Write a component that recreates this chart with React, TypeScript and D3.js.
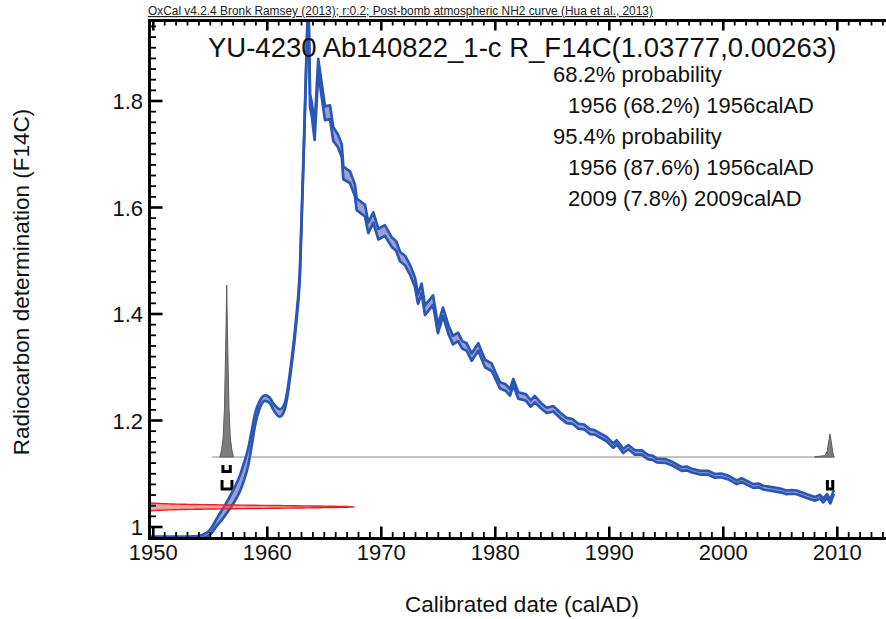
import React from 'react';
import * as d3 from 'd3';

// ---- Calibration curve (Post-bomb NH2) ----
const calYear = [1949.4, 1951, 1952.5, 1953.8, 1954.3, 1954.8, 1955.12, 1955.6, 1956.0, 1956.58, 1957.1, 1957.6, 1958.0, 1958.33, 1958.62, 1958.92, 1959.3, 1959.8, 1960.2, 1960.6, 1961.1, 1961.55, 1962.05, 1962.5, 1962.87, 1963.2, 1963.48, 1963.6, 1963.75, 1963.9, 1964.15, 1964.47, 1965.06, 1965.5, 1965.79, 1966.2, 1966.53, 1966.67, 1967.25, 1967.69, 1967.84, 1968.57, 1968.86, 1969.3, 1969.74, 1970.32, 1970.91, 1971.3, 1971.64, 1972.1, 1972.52, 1972.96, 1973.22, 1973.54, 1973.83, 1974.54, 1974.97, 1975.41, 1975.9, 1976.29, 1976.73, 1977.1, 1977.49, 1977.93, 1978.51, 1979.1, 1979.68, 1980.0, 1980.41, 1980.9, 1981.29, 1981.58, 1982.02, 1982.7, 1983.1, 1983.48, 1984.0, 1984.51, 1985.1, 1985.68, 1986.26, 1986.8, 1987.3, 1987.8, 1988.3, 1988.7, 1989.18, 1989.77, 1990.35, 1990.65, 1991.23, 1991.67, 1992.25, 1992.84, 1993.42, 1993.8, 1994.16, 1994.9, 1995.61, 1996.35, 1996.8, 1997.23, 1997.96, 1998.66, 1999.27, 1999.8, 2000.44, 2001.18, 2001.61, 2002.63, 2003.1, 2003.51, 2004.39, 2005.12, 2005.56, 2006.0, 2006.44, 2007.32, 2008.04, 2008.48, 2008.77, 2009.1, 2009.39, 2009.7];
const calF14C = [0.979, 0.979, 0.979, 0.980, 0.982, 0.987, 0.994, 1.010, 1.022, 1.041, 1.060, 1.082, 1.107, 1.132, 1.165, 1.201, 1.228, 1.242, 1.238, 1.224, 1.214, 1.228, 1.295, 1.38, 1.483, 1.708, 1.915, 2.0, 1.80, 1.785, 1.74, 1.866, 1.777, 1.779, 1.738, 1.725, 1.707, 1.665, 1.657, 1.632, 1.606, 1.594, 1.562, 1.581, 1.550, 1.557, 1.535, 1.528, 1.508, 1.500, 1.483, 1.459, 1.428, 1.448, 1.407, 1.426, 1.372, 1.404, 1.370, 1.351, 1.357, 1.342, 1.338, 1.319, 1.338, 1.307, 1.300, 1.285, 1.266, 1.262, 1.253, 1.272, 1.247, 1.243, 1.232, 1.240, 1.228, 1.219, 1.222, 1.210, 1.200, 1.198, 1.189, 1.188, 1.179, 1.178, 1.172, 1.165, 1.153, 1.159, 1.143, 1.150, 1.140, 1.140, 1.131, 1.130, 1.125, 1.124, 1.118, 1.109, 1.110, 1.106, 1.102, 1.102, 1.096, 1.097, 1.093, 1.084, 1.088, 1.077, 1.078, 1.074, 1.071, 1.068, 1.065, 1.066, 1.065, 1.058, 1.053, 1.057, 1.050, 1.058, 1.048, 1.066];
const calSigma = [0.003, 0.003, 0.003, 0.003, 0.003, 0.004, 0.005, 0.007, 0.009, 0.011, 0.013, 0.015, 0.016, 0.016, 0.014, 0.011, 0.007, 0.005, 0.005, 0.006, 0.007, 0.006, 0.005, 0.005, 0.006, 0.006, 0.007, 0.008, 0.012, 0.013, 0.013, 0.013, 0.013, 0.013, 0.013, 0.012, 0.012, 0.012, 0.011, 0.011, 0.011, 0.011, 0.010, 0.010, 0.010, 0.010, 0.009, 0.009, 0.009, 0.009, 0.009, 0.009, 0.009, 0.009, 0.009, 0.009, 0.008, 0.008, 0.008, 0.008, 0.008, 0.007, 0.007, 0.007, 0.007, 0.007, 0.007, 0.006, 0.006, 0.006, 0.006, 0.006, 0.006, 0.006, 0.006, 0.006, 0.005, 0.005, 0.005, 0.005, 0.005, 0.0045, 0.0045, 0.0045, 0.0045, 0.004, 0.004, 0.004, 0.004, 0.004, 0.004, 0.004, 0.004, 0.004, 0.004, 0.004, 0.0035, 0.0035, 0.0035, 0.0035, 0.0035, 0.0035, 0.0035, 0.0035, 0.0035, 0.0035, 0.0035, 0.0035, 0.0035, 0.0035, 0.0035, 0.0035, 0.0035, 0.0035, 0.0035, 0.0035, 0.0035, 0.0035, 0.0035, 0.0035, 0.0035, 0.0035, 0.0035, 0.0035];
// index where the curve turns from smooth to seasonal (jagged)
const smoothUntil = 25;

// ---- Posterior probability (calibrated) ----
const probYear1 = [1955.84, 1955.99, 1956.13, 1956.24, 1956.31, 1956.38, 1956.44, 1956.5, 1956.57, 1956.64, 1956.75, 1956.89, 1957.04];
const probValue1 = [0, 0.04, 0.116, 0.28, 0.5, 0.75, 1, 0.75, 0.5, 0.28, 0.116, 0.04, 0];
const probYear2 = [2008.0, 2008.5, 2008.9, 2009.1, 2009.25, 2009.36, 2009.47, 2009.6, 2009.7];
const probValue2 = [0, 0.005, 0.008, 0.03, 0.09, 0.134, 0.09, 0.03, 0];
const probRange = [1955.15, 2009.8];

// ranges: [from, to]
const range68 = [[1956.11, 1956.75]];
const range95 = [[1956.03, 1956.9], [2009.13, 2009.6]];

// ---- Measurement ----
const measMean = 1.03777;
const measSigma = 0.00263;

const xMajor = [1950, 1960, 1970, 1980, 1990, 2000, 2010];
const yMajor = [1, 1.2, 1.4, 1.6, 1.8];
const yLabels = ['1', '1.2', '1.4', '1.6', '1.8'];

const headerText = 'OxCal v4.2.4 Bronk Ramsey (2013); r:0.2; Post-bomb atmospheric NH2 curve (Hua et al., 2013)';
const titleText = 'YU-4230 Ab140822_1-c R_F14C(1.03777,0.00263)';
const infoLines = [
  { t: '68.2% probability', indent: 0 },
  { t: '1956 (68.2%) 1956calAD', indent: 1 },
  { t: '95.4% probability', indent: 0 },
  { t: '1956 (87.6%) 1956calAD', indent: 1 },
  { t: '2009 (7.8%) 2009calAD', indent: 1 },
];

const FONT = '"Liberation Sans", Arial, Helvetica, sans-serif';

export default function App() {
  const W = 886, H = 619;
  const left = 149.5, right = 886, top = 20.5, bottom = 538.5;
  const x = d3.scaleLinear().domain([1950, 2010]).range([153.3, 837.3]);
  const y = d3.scaleLinear().domain([1, 1.8]).range([527, 101]);
  const p = d3.scaleLinear().domain([0, 1]).range([457, 285]);
  const redX = d3.scaleLinear().domain([0, 1]).range([148, 353]);

  const idxA = d3.range(0, smoothUntil + 1);
  const idxB = d3.range(smoothUntil, calYear.length);
  const mkArea = (c: any) => d3.area<number>()
    .x(i => x(calYear[i]))
    .y0(i => y(calF14C[i] - calSigma[i]))
    .y1(i => y(calF14C[i] + calSigma[i]))
    .curve(c);
  const mkLine = (c: any, s: number) => d3.line<number>().x(i => x(calYear[i])).y(i => y(calF14C[i] + s * calSigma[i])).curve(c);
  const bandPath = (mkArea(d3.curveMonotoneX)(idxA) || '') + (mkArea(d3.curveLinear)(idxB) || '');
  const upPath = (mkLine(d3.curveMonotoneX, 1)(idxA) || '') + (mkLine(d3.curveLinear, 1)(idxB) || '').replace(/^M/, 'L');
  const loPath = (mkLine(d3.curveMonotoneX, -1)(idxA) || '') + (mkLine(d3.curveLinear, -1)(idxB) || '').replace(/^M/, 'L');

  const probArea = (ys: number[], vs: number[]) =>
    d3.area<number>().x(i => x(ys[i])).y0(p(0)).y1(i => p(vs[i])).curve(d3.curveLinear)(d3.range(ys.length)) || '';

  // measurement gaussian along the y axis
  const ts = d3.range(-3.7, 3.7001, 0.05);
  const redPts: [number, number][] = ts.map(t => [redX(Math.exp(-t * t / 2)), y(measMean + t * measSigma)]);
  const redPath = `M${redX(0)},${y(measMean - 3.7 * measSigma)}` + redPts.map(([a, b]) => `L${a},${b}`).join('') + `L${redX(0)},${y(measMean + 3.7 * measSigma)}Z`;

  const xMinor = d3.range(1950, 2015, 1);
  const yMinor = d3.range(0, 49).map(k => 0.98 + k * 0.02);

  const bracket = (r: number[], yTop: number, yBot: number, key: string) => (
    <path key={key} d={`M${x(r[0])},${yTop}V${yBot}H${x(r[1])}V${yTop}`} fill="none" stroke="#000" strokeWidth={3} />
  );

  return (
    <svg width={W} height={H} style={{ position: 'absolute', left: 0, top: 0, background: '#fff' }} fontFamily={FONT}>
      <defs>
        <clipPath id="plot">
          <rect x={left} y={top} width={right - left} height={bottom - top} />
        </clipPath>
      </defs>
      <rect x={0} y={0} width={W} height={H} fill="#fff" />

      {/* header */}
      <text x={148} y={15} fontSize={11.9} fill="#222" textDecoration="underline">{headerText}</text>

      <g clipPath="url(#plot)">
        {/* probability distributions */}
        <line x1={x(probRange[0])} x2={x(probRange[1])} y1={p(0)} y2={p(0)} stroke="#8a8a8a" strokeWidth={1.2} />
        <path d={probArea(probYear1, probValue1)} fill="#7d7d7d" stroke="#5c5c5c" strokeWidth={1} />
        <path d={probArea(probYear2, probValue2)} fill="#7d7d7d" stroke="#5c5c5c" strokeWidth={1} />

        {/* ranges */}
        {range68.map((r, i) => bracket(r, 465, 471.5, 'a' + i))}
        {range95.map((r, i) => bracket(r, 480, 489, 'b' + i))}

        {/* calibration curve */}
        <path d={bandPath} fill="#9c9fd6" stroke="none" />
        <path d={upPath} fill="none" stroke="#2a56b4" strokeWidth={2.7} strokeLinejoin="round" />
        <path d={loPath} fill="none" stroke="#2a56b4" strokeWidth={2.7} strokeLinejoin="round" />

        {/* measurement */}
        <path d={redPath} fill="rgba(236,80,80,0.55)" stroke="#e3221f" strokeWidth={1.4} />
      </g>

      {/* frame */}
      <line x1={left} x2={left} y1={top - 1.5} y2={bottom + 1.5} stroke="#000" strokeWidth={3} />
      <line x1={left - 1.5} x2={right} y1={bottom} y2={bottom} stroke="#000" strokeWidth={3} />
      <line x1={left - 1.5} x2={right} y1={top} y2={top} stroke="#000" strokeWidth={3} />

      {/* x ticks */}
      {xMinor.map(v => {
        const major = v % 10 === 0;
        return (
          <g key={'xt' + v}>
            <line x1={x(v)} x2={x(v)} y1={bottom} y2={bottom - (major ? 12 : 6.5)} stroke="#000" strokeWidth={major ? 2.6 : 1.8} />
            <line x1={x(v)} x2={x(v)} y1={top} y2={top + (major ? 10 : 5)} stroke="#000" strokeWidth={major ? 2.6 : 1.8} />
          </g>
        );
      })}
      {/* y ticks */}
      {yMinor.map((v, k) => {
        const major = Math.abs(v * 10 / 2 - Math.round(v * 10 / 2)) < 1e-6;
        return (
          <line key={'yt' + k} x1={left} x2={left + (major ? 13 : 6.5)} y1={y(v)} y2={y(v)} stroke="#000" strokeWidth={major ? 2.6 : 1.8} />
        );
      })}

      {/* tick labels */}
      {xMajor.map(v => (
        <text key={'xl' + v} x={x(v)} y={560} fontSize={22} textAnchor="middle" fill="#111">{v}</text>
      ))}
      {yMajor.map((v, i) => (
        <text key={'yl' + v} x={143} y={y(v) + 8} fontSize={22} textAnchor="end" fill="#111">{yLabels[i]}</text>
      ))}

      {/* axis titles */}
      <text x={522} y={612} fontSize={22.5} textAnchor="middle" fill="#111">Calibrated date (calAD)</text>
      <text transform={`translate(29,282) rotate(-90)`} fontSize={22.5} textAnchor="middle" fill="#111">Radiocarbon determination (F14C)</text>

      {/* title & info */}
      <text x={208} y={57} fontSize={27.5} fill="#111">{titleText}</text>
      {infoLines.map((l, i) => (
        <text key={'il' + i} x={l.indent ? 568 : 553} y={82 + i * 31} fontSize={22} fill="#111">{l.t}</text>
      ))}
    </svg>
  );
}
